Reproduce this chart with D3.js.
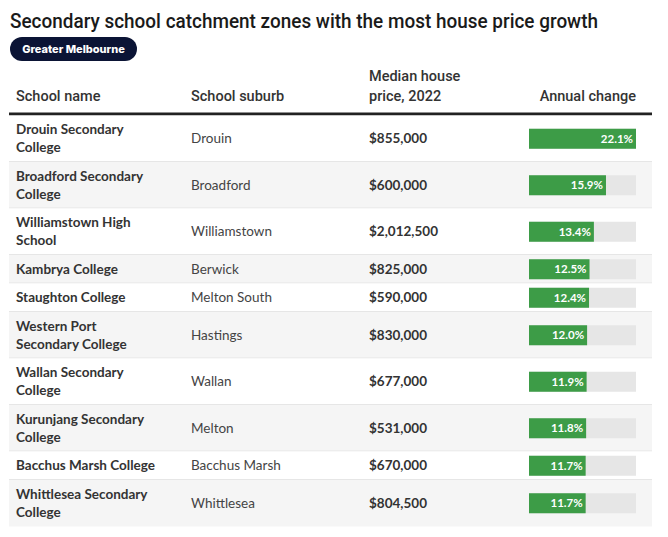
<!DOCTYPE html>
<html><head><meta charset="utf-8">
<script src="https://cdn.jsdelivr.net/npm/d3@7"></script>
<style>body{margin:0;background:#fff;}svg{display:block;}</style>
</head><body><svg id="chart" width="668" height="537"></svg>
<script>
const schools = ["Drouin Secondary College","Broadford Secondary College","Williamstown High School","Kambrya College","Staughton College","Western Port Secondary College","Wallan Secondary College","Kurunjang Secondary College","Bacchus Marsh College","Whittlesea Secondary College"];
const suburbs = ["Drouin","Broadford","Williamstown","Berwick","Melton South","Hastings","Wallan","Melton","Bacchus Marsh","Whittlesea"];
const prices = [855000,600000,2012500,825000,590000,830000,677000,531000,670000,804500];
const changes = [22.1,15.9,13.4,12.5,12.4,12.0,11.9,11.8,11.7,11.7];
const headers = ["School name","School suburb","Median house price, 2022","Annual change"];
const title = "Secondary school catchment zones with the most house price growth";
const tag = "Greater Melbourne";

const svg = d3.select("#chart");
const FONT = "Lato, 'Open Sans', sans-serif";
const HFONT = "Roboto, sans-serif";
const fmt = d3.format("$,");

// Title
svg.append("text").attr("x",10).attr("y",28)
  .attr("font-family",HFONT).attr("font-weight",500).attr("font-size",20)
  .attr("fill","#1a1a1a").attr("textLength",588).attr("lengthAdjust","spacingAndGlyphs").text(title);

// Tag pill
svg.append("rect").attr("x",10).attr("y",37).attr("width",127).attr("height",24).attr("rx",12).attr("fill","#0b1435");
svg.append("text").attr("x",73.5).attr("y",53).attr("text-anchor","middle")
  .attr("font-family","Inter, sans-serif").attr("font-weight",800).attr("font-size",11)
  .attr("fill","#fff").text(tag);

// Columns
const colX = [16,191,369];
const barX0 = 529, barX1 = 636;
const left = 9, right = 652;

// Header
const hg = svg.append("g").attr("font-family",HFONT).attr("font-weight",500).attr("font-size",14.5).attr("fill","#333");
hg.append("text").attr("x",colX[0]).attr("y",101).text(headers[0]);
hg.append("text").attr("x",colX[1]).attr("y",101).text(headers[1]);
hg.append("text").attr("x",colX[2]).attr("y",81).text("Median house");
hg.append("text").attr("x",colX[2]).attr("y",101).text("price, 2022");
hg.append("text").attr("x",barX1).attr("y",101).attr("text-anchor","end").text(headers[3]);
svg.append("rect").attr("x",left).attr("y",112.5).attr("width",right-left).attr("height",3).attr("fill","#222");

// wrap helper
const meas = svg.append("text").attr("font-family",FONT).attr("font-weight",700).attr("font-size",13.5).attr("visibility","hidden");
function wrap(str, maxW){
  const words = str.split(" "); const lines=[]; let cur="";
  for(const w of words){
    const test = cur? cur+" "+w : w;
    meas.text(test);
    if(meas.node().getComputedTextLength()>maxW && cur){ lines.push(cur); cur=w; } else cur=test;
  }
  lines.push(cur); return lines;
}
const lineH = 18;
const rows = schools.map((s,i)=>({name:s, lines:wrap(s,142), suburb:suburbs[i], price:prices[i], change:changes[i]}));
let y = 115.5;
rows.forEach(r=>{ r.h = r.lines.length*lineH + 10.5; r.y = y; y += r.h; });
meas.remove();

const x = d3.scaleLinear().domain([0, d3.max(changes)]).range([barX0, barX1]);

const g = svg.append("g").attr("font-family",FONT).attr("font-size",13.5);
const rg = g.selectAll("g.row").data(rows).join("g").attr("class","row");
rg.append("rect").attr("x",left).attr("y",d=>d.y).attr("width",right-left).attr("height",d=>d.h)
  .attr("fill",(d,i)=>i%2? "#f5f5f5":"#fff");
rg.filter((d,i)=>i<rows.length-1).append("rect").attr("x",left).attr("y",d=>d.y+d.h-1).attr("width",right-left).attr("height",1).attr("fill","#e6e6e6");
rg.each(function(d){
  const s = d3.select(this);
  const cy = d.y + d.h/2;
  const nt = s.append("text").attr("font-weight",700).attr("fill","#333");
  d.lines.forEach((l,k)=>{
    nt.append("tspan").attr("x",colX[0]).attr("y", cy - (d.lines.length-1)*lineH/2 + k*lineH + 4.5).text(l);
  });
  s.append("text").attr("x",colX[1]).attr("y",cy+4.5).attr("fill","#444").text(d.suburb);
  s.append("text").attr("x",colX[2]).attr("y",cy+4.5).attr("font-weight",700).attr("fill","#333").text(fmt(d.price));
  s.append("rect").attr("x",barX0).attr("y",cy-10).attr("width",barX1-barX0).attr("height",20).attr("fill","#e6e6e6");
  s.append("rect").attr("x",barX0).attr("y",cy-10).attr("width",x(d.change)-barX0).attr("height",20).attr("fill","#3d9c47");
  s.append("text").attr("x",x(d.change)-3).attr("y",cy+4).attr("text-anchor","end")
    .attr("font-weight",700).attr("font-size",11.5).attr("fill","#fff").text(d.change.toFixed(1)+"%");
});
</script></body></html>
